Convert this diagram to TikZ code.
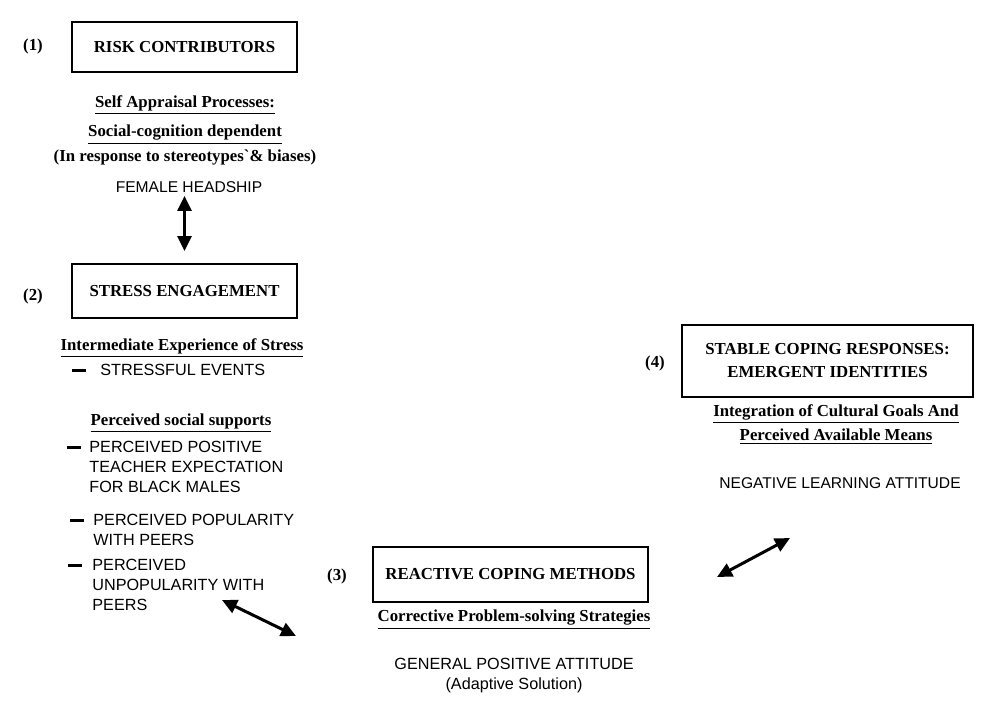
\documentclass[tikz,border=0pt]{standalone}
\usepackage{fontspec}
\setmainfont{Liberation Serif}
\setsansfont{Liberation Sans}
\usetikzlibrary{arrows.meta,positioning}

\begin{document}
\begin{tikzpicture}[x=0.5pt, y=-0.5pt,
  stage/.style={shape=rectangle, draw, line width=1pt, align=center, font=\fontsize{8.4}{11.5}\selectfont\bfseries},
  num/.style={font=\fontsize{8.4}{10}\selectfont\bfseries},
  head/.style={font=\fontsize{8.4}{10}\selectfont\bfseries},
  item/.style={anchor=west, align=left, inner sep=0pt, font=\fontsize{8.1}{10}\selectfont\sffamily},
  bar/.style={shape=rectangle, fill, inner sep=0pt, minimum width=7pt, minimum height=1.5pt},
  link/.style={{Triangle[length=7.5pt,width=7pt]}-{Triangle[length=7.5pt,width=7pt]}, line width=1.5pt}]
\useasboundingbox (0,0) rectangle (983,719);

% (1) risk contributors
\node [stage, minimum width=112.5pt, minimum height=25pt] (risk) at (184.5,47) {RISK CONTRIBUTORS};
\node [num] (n1) at (33,46) {(1)};
\node [head] (selfA) at (185,105) {\underline{Self Appraisal Processes:}};
\node [head] (selfB) at (185,135) {\underline{Social-cognition dependent}};
\node [head] (selfC) at (185,157) {(In response to stereotypes\textasciigrave\& biases)};
\node [item, anchor=center, font=\fontsize{7.8}{10}\selectfont\sffamily] (headship) at (189,187) {FEMALE HEADSHIP};

% (2) stress engagement
\node [stage, minimum width=112.5pt, minimum height=27pt] (stress) at (184.5,291) {STRESS ENGAGEMENT};
\node [num] (n2) at (33,296) {(2)};
\node [head] (interm) at (182,348) {\underline{Intermediate Experience of Stress}};
\node [bar] (dashA) at (78.5,370) {};
\node [item] (events) at (100,370) {STRESSFUL EVENTS};
\node [head] (percv) at (181,423) {\underline{Perceived social supports}};
\node [bar] (dashB) at (73.5,447) {};
\node [item] (teacher) at (89,467) {PERCEIVED POSITIVE\\TEACHER EXPECTATION\\FOR BLACK MALES};
\node [bar] (dashC) at (76.5,520) {};
\node [item] (popular) at (93,530) {PERCEIVED POPULARITY\\WITH PEERS};
\node [bar] (dashD) at (74.5,565) {};
\node [item] (unpop) at (92,585) {PERCEIVED\\UNPOPULARITY WITH\\PEERS};

% (3) reactive coping
\node [stage, minimum width=137.5pt, minimum height=27.5pt] (coping) at (510.5,574.5) {REACTIVE COPING METHODS};
\node [num] (n3) at (337,576) {(3)};
\node [head] (correct) at (514,620) {\underline{Corrective Problem-solving Strategies}};
\node [item, anchor=center, align=center] (general) at (514,676) {GENERAL POSITIVE ATTITUDE\\(Adaptive Solution)};

% (4) stable coping
\node [stage, minimum width=145.5pt, minimum height=36pt] (stable) at (827.5,361) {STABLE COPING RESPONSES:\\EMERGENT IDENTITIES};
\node [num] (n4) at (655,363) {(4)};
\node [head] (integA) at (836,414) {\underline{Integration of Cultural Goals And}};
\node [head] (integB) at (836,437) {\underline{Perceived Available Means}};
\node [item, anchor=center, font=\fontsize{7.8}{10}\selectfont\sffamily] (negative) at (840,483) {NEGATIVE LEARNING ATTITUDE};

\coordinate (unpopEnd) at (222,600);
\coordinate (copingEnd) at (296,636);
\coordinate (stableEnd) at (790,538);
\coordinate (copingEnd2) at (717,577);

\draw [link, shorten <=1.5pt, shorten >=6pt] (stress.north |- headship.south) -- (stress.north);
\draw [link] (unpopEnd) -- (copingEnd);
\draw [link] (copingEnd2) -- (stableEnd);
\end{tikzpicture}
\end{document}
